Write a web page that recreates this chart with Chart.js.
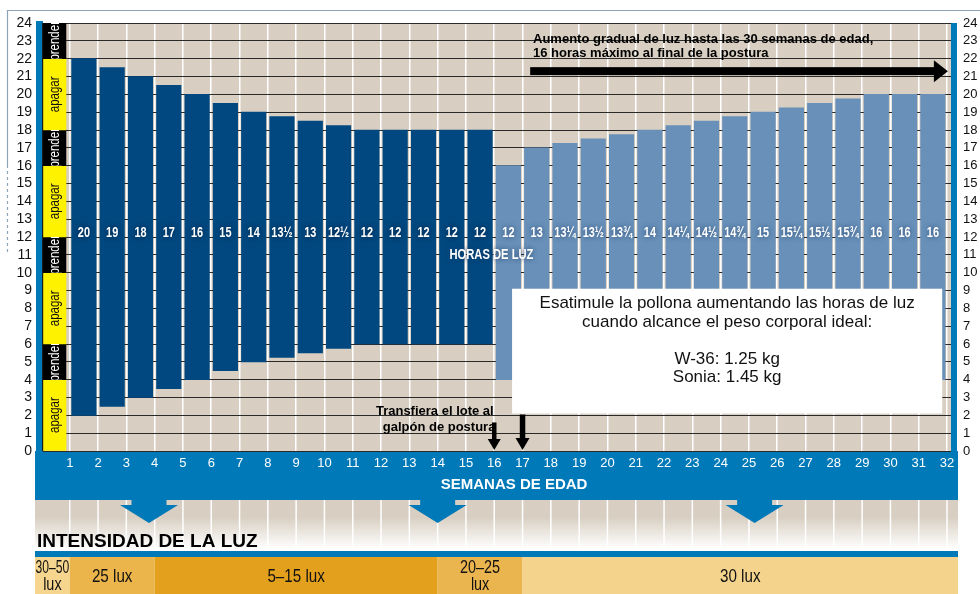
<!DOCTYPE html>
<html>
<head>
<meta charset="utf-8">
<script src="https://cdn.jsdelivr.net/npm/chart.js@4.4.1/dist/chart.umd.min.js"></script>
<style>
  html, body { margin: 0; padding: 0; background: #fff; }
  #wrap { width: 980px; height: 594px; }
</style>
</head>
<body>
<div id="wrap"><canvas id="myChart" width="980" height="594"></canvas></div>
<script>
// semanas 1-15: recria (galpón de levante)
var rearingWeeks = [1, 2, 3, 4, 5, 6, 7, 8, 9, 10, 11, 12, 13, 14, 15];
var rearingOn  = [2, 2.5, 3, 3.5, 4, 4.5, 5, 5.25, 5.5, 5.75, 6, 6, 6, 6, 6];
var rearingOff = [22, 21.5, 21, 20.5, 20, 19.5, 19, 18.75, 18.5, 18.25, 18, 18, 18, 18, 18];

// semanas 16-31: postura
var layingWeeks = [16, 17, 18, 19, 20, 21, 22, 23, 24, 25, 26, 27, 28, 29, 30, 31];
var layingOn  = [4, 4, 4, 4, 4, 4, 4, 4, 4, 4, 4, 4, 4, 4, 4, 4];
var layingOff = [16, 17, 17.25, 17.5, 17.75, 18, 18.25, 18.5, 18.75, 19, 19.25, 19.5, 19.75, 20, 20, 20];

// franja apagar / prender (horas del dia)
var switchLabels = ['apagar', 'prender', 'apagar', 'prender', 'apagar', 'prender', 'apagar', 'prender'];
var switchFrom   = [0, 4, 6, 10, 12, 16, 18, 22];
var switchTo     = [4, 6, 10, 12, 16, 18, 22, 24];

// intensidad de la luz por semanas
var luxLabels = [['30–50', 'lux'], ['25 lux'], ['5–15 lux'], ['20–25', 'lux'], ['30 lux']];
var luxFrom   = [0, 1, 4, 14, 17];
var luxTo     = [1, 4, 14, 17, 33];
var luxColors = ['#f6d58e', '#ebb54b', '#e3a01d', '#eab44e', '#f4d38c'];

var weekTicks = [];
for (var w = 1; w <= 32; w++) weekTicks.push(w);

var BLUE = '#0079b8';
var BEIGE = '#d8cfc2';
var SANS = '"Liberation Sans", Arial, sans-serif';

function hoursText(h) {
  var whole = Math.floor(h);
  var frac = { 0.25: '¼', 0.5: '½', 0.75: '¾' }[h - whole] || '';
  return whole + frac;
}

// texto condensado (simula Helvetica Condensed); maxW opcional para que quepa
function narrowText(c, text, x, y, font, squeeze, maxW) {
  c.save();
  c.font = font;
  if (maxW) {
    var tw = c.measureText(text).width;
    squeeze = Math.min(squeeze, maxW / tw);
  }
  c.translate(x, y);
  c.scale(squeeze, 1);
  c.fillText(text, 0, 0);
  c.restore();
}

function downArrow(c, x, y0, y1, shaft, head, headLen) {
  c.fillRect(x - shaft / 2, y0, shaft, y1 - y0 - headLen);
  c.beginPath();
  c.moveTo(x - head / 2, y1 - headLen);
  c.lineTo(x + head / 2, y1 - headLen);
  c.lineTo(x, y1);
  c.closePath();
  c.fill();
}

var backdrop = {
  id: 'backdrop',
  beforeDraw: function (chart) {
    var c = chart.ctx, a = chart.chartArea, xs = chart.scales.x;
    c.save();
    c.fillStyle = BEIGE;
    c.fillRect(a.left, a.top, a.right - a.left, a.bottom - a.top);
    // bandas azules
    c.fillStyle = BLUE;
    c.fillRect(a.left - 7, a.top - 2, 7, a.bottom - a.top + 2);
    c.fillRect(a.right, a.top, 6, a.bottom - a.top);
    c.fillRect(a.left - 8, a.bottom, a.right - a.left + 15, 49);
    // zona inferior con degradado
    var g = c.createLinearGradient(0, a.bottom + 49, 0, a.bottom + 98);
    g.addColorStop(0, BEIGE);
    g.addColorStop(0.35, BEIGE);
    g.addColorStop(1, '#ffffff');
    c.fillStyle = g;
    c.fillRect(a.left - 8, a.bottom + 49, a.right - a.left + 15, 50);
    c.strokeStyle = '#ffffff';
    c.lineWidth = 1.5;
    weekTicks.forEach(function (wk) {
      var px = xs.getPixelForValue(wk);
      c.beginPath();
      c.moveTo(px, a.bottom + 49);
      c.lineTo(px, a.bottom + 98);
      c.stroke();
    });
    // flechas azules
    c.fillStyle = BLUE;
    [3.8, 14, 25.2].forEach(function (wk) {
      downArrow(c, xs.getPixelForValue(wk), a.bottom + 48, a.bottom + 72, 35, 58, 18);
    });
    // intensidad de la luz
    c.fillStyle = '#000';
    c.font = 'bold 19px ' + SANS;
    c.textBaseline = 'alphabetic';
    c.textAlign = 'left';
    c.fillText('INTENSIDAD DE LA LUZ', a.left - 6, a.bottom + 96);
    var bandL = a.left - 8, bandR = a.right + 7;
    c.fillStyle = BLUE;
    c.fillRect(bandL, a.bottom + 100, bandR - bandL, 6);
    var top = a.bottom + 106, h = chart.height - top;
    for (var i = 0; i < luxLabels.length; i++) {
      var l = i === 0 ? bandL : Math.max(bandL, xs.getPixelForValue(luxFrom[i]));
      var r = Math.min(bandR, xs.getPixelForValue(luxTo[i]));
      c.fillStyle = luxColors[i];
      c.fillRect(l, top, r - l, h);
      c.fillStyle = '#111';
      c.textAlign = 'center';
      c.textBaseline = 'middle';
      var lines = luxLabels[i];
      var cx = (l + r) / 2;
      if (lines.length > 1) {
        narrowText(c, lines[0], cx, top + 11, '18px ' + SANS, 0.8, r - l - 1);
        narrowText(c, lines[1], cx, top + 28, '18px ' + SANS, 0.8, r - l - 1);
      } else {
        narrowText(c, lines[0], cx, top + h / 2 + 1, '19px ' + SANS, 0.8);
      }
    }
    c.restore();
  }
};

var overlay = {
  id: 'overlay',
  afterDatasetsDraw: function (chart) {
    var c = chart.ctx, a = chart.chartArea, xs = chart.scales.x, ys = chart.scales.y;
    c.save();
    // borde de la franja
    c.fillStyle = '#1a1a1a';
    c.fillRect(a.left - 1, a.top, 1.2, a.bottom - a.top);
    // textos apagar / prender
    var strip = chart.getDatasetMeta(2).data;
    strip.forEach(function (bar, i) {
      var yTop = Math.min(bar.y, bar.base), yBot = Math.max(bar.y, bar.base);
      c.save();
      c.beginPath();
      c.rect(bar.x - bar.width / 2, yTop, bar.width, yBot - yTop);
      c.clip();
      c.translate(bar.x, (yTop + yBot) / 2);
      c.rotate(-Math.PI / 2);
      c.textAlign = 'center';
      c.textBaseline = 'middle';
      c.fillStyle = switchLabels[i] === 'apagar' ? '#111' : '#fff';
      narrowText(c, switchLabels[i], 0, 1, '14px ' + SANS, 0.82);
      c.restore();
    });
    // horas de luz sobre cada barra
    c.textAlign = 'center';
    c.textBaseline = 'middle';
    c.fillStyle = '#fff';
    var ly = ys.getPixelForValue(12.2);
    [[0, rearingOn, rearingOff, 'rgba(0,25,60,0.9)'], [1, layingOn, layingOff, 'rgba(40,70,110,0.9)']].forEach(function (set) {
      var bars = chart.getDatasetMeta(set[0]).data;
      c.shadowColor = set[3];
      c.shadowBlur = 5;
      bars.forEach(function (bar, i) {
        narrowText(c, hoursText(set[2][i] - set[1][i]), bar.x, ly, 'bold 14px ' + SANS, 0.78);
      });
    });
    c.shadowColor = 'rgba(30,60,100,0.9)';
    c.shadowBlur = 5;
    narrowText(c, 'HORAS DE LUZ', xs.getPixelForValue(15.9), ys.getPixelForValue(11), 'bold 14px ' + SANS, 0.8);
    c.shadowBlur = 0;
    c.shadowColor = 'transparent';

    // recuadro blanco
    var bx0 = xs.getPixelForValue(16.63), bx1 = xs.getPixelForValue(31.83);
    var by0 = ys.getPixelForValue(9.1), by1 = ys.getPixelForValue(2.1);
    c.fillStyle = '#fff';
    c.fillRect(bx0, by0, bx1 - bx0, by1 - by0);
    c.fillStyle = '#111';
    c.font = '17px ' + SANS;
    var bcx = (bx0 + bx1) / 2;
    c.fillText('Esatimule la pollona aumentando las horas de luz', bcx, by0 + 15);
    c.fillText('cuando alcance el peso corporal ideal:', bcx, by0 + 34);
    c.fillText('W-36: 1.25 kg', bcx, by0 + 71);
    c.fillText('Sonia: 1.45 kg', bcx, by0 + 89);

    // traslado al galpón de postura
    c.font = 'bold 13px ' + SANS;
    c.fillStyle = '#000';
    c.fillText('Transfiera el lote al', xs.getPixelForValue(13.9), ys.getPixelForValue(2.2));
    c.fillText('galpón de postura', xs.getPixelForValue(14.05), ys.getPixelForValue(1.35));
    downArrow(c, xs.getPixelForValue(16), ys.getPixelForValue(1.6), a.bottom - 1, 4.5, 13, 11);
    downArrow(c, xs.getPixelForValue(17), ys.getPixelForValue(2.05), a.bottom - 1, 5.5, 14, 12);

    // aumento gradual
    c.textAlign = 'left';
    var tx = xs.getPixelForValue(17.37);
    c.fillText('Aumento gradual de luz hasta las 30 semanas de edad,', tx, ys.getPixelForValue(23.1));
    c.fillText('16 horas máximo al final de la postura', tx, ys.getPixelForValue(22.3));
    var ay = ys.getPixelForValue(21.3);
    var ax0 = xs.getPixelForValue(17.27), ax1 = xs.getPixelForValue(32.03);
    c.fillRect(ax0, ay - 4, ax1 - ax0 - 13, 8);
    c.beginPath();
    c.moveTo(ax1 - 14, ay - 11);
    c.lineTo(ax1, ay);
    c.lineTo(ax1 - 14, ay + 11);
    c.closePath();
    c.fill();

    // titulo eje x
    c.fillStyle = '#fff';
    c.font = 'bold 15px ' + SANS;
    c.textAlign = 'center';
    c.fillText('SEMANAS DE EDAD', xs.getPixelForValue(16.7), a.bottom + 34);

    // marco
    c.strokeStyle = '#8ea3b8';
    c.lineWidth = 1.2;
    c.beginPath();
    c.moveTo(7.5, 165);
    c.lineTo(7.5, 10.5);
    c.lineTo(980, 10.5);
    c.stroke();
    c.setLineDash([3, 3]);
    c.beginPath();
    c.moveTo(7.5, 165);
    c.lineTo(7.5, 255);
    c.stroke();
    c.restore();
  }
};

var ctx = document.getElementById('myChart').getContext('2d');

var myChart = new Chart(ctx, {
  type: 'bar',
  data: {
    datasets: [{
      label: 'Recria',
      data: rearingWeeks.map(function (wk, i) { return { x: wk + 0.5, y: [rearingOn[i], rearingOff[i]] }; }),
      backgroundColor: '#00487f',
      barThickness: 24.5
    }, {
      label: 'Postura',
      data: layingWeeks.map(function (wk, i) { return { x: wk + 0.5, y: [layingOn[i], layingOff[i]] }; }),
      backgroundColor: '#6890b9',
      barThickness: 24.5
    }, {
      label: 'Interruptor',
      data: switchLabels.map(function (s, i) { return { x: 0.46, y: [switchFrom[i], switchTo[i]] }; }),
      backgroundColor: switchLabels.map(function (s) { return s === 'apagar' ? '#fff200' : '#000000'; }),
      barThickness: 23
    }]
  },
  options: {
    responsive: false,
    animation: false,
    devicePixelRatio: 1,
    layout: { padding: { top: 23, left: 0, right: 0, bottom: 0 } },
    datasets: { bar: { grouped: false } },
    plugins: {
      legend: { display: false },
      tooltip: { enabled: false }
    },
    scales: {
      x: {
        type: 'linear',
        offset: false,
        min: 0.055,
        max: 32.14,
        afterBuildTicks: function (scale) {
          scale.ticks = weekTicks.map(function (v) { return { value: v }; });
        },
        afterFit: function (scale) { scale.height = 143; },
        grid: { color: '#ffffff', lineWidth: 1.5, drawTicks: false, offset: false },
        border: { display: false },
        ticks: {
          autoSkip: false,
          maxRotation: 0,
          padding: 5,
          color: '#ffffff',
          font: { family: SANS, size: 13 }
        }
      },
      y: {
        position: 'left',
        min: 0,
        max: 24,
        afterFit: function (scale) { scale.width = 43; },
        grid: { color: '#2a2a2a', lineWidth: 1, drawTicks: false },
        border: { display: false },
        ticks: {
          stepSize: 1,
          autoSkip: false,
          padding: 11,
          color: '#111',
          font: { family: SANS, size: 14 }
        }
      },
      y2: {
        position: 'right',
        min: 0,
        max: 24,
        afterFit: function (scale) { scale.width = 29; },
        grid: { display: false, drawTicks: false },
        border: { display: false },
        ticks: {
          stepSize: 1,
          autoSkip: false,
          padding: 12,
          color: '#111',
          font: { family: SANS, size: 13 }
        }
      }
    }
  },
  plugins: [backdrop, overlay]
});
</script>
</body>
</html>
